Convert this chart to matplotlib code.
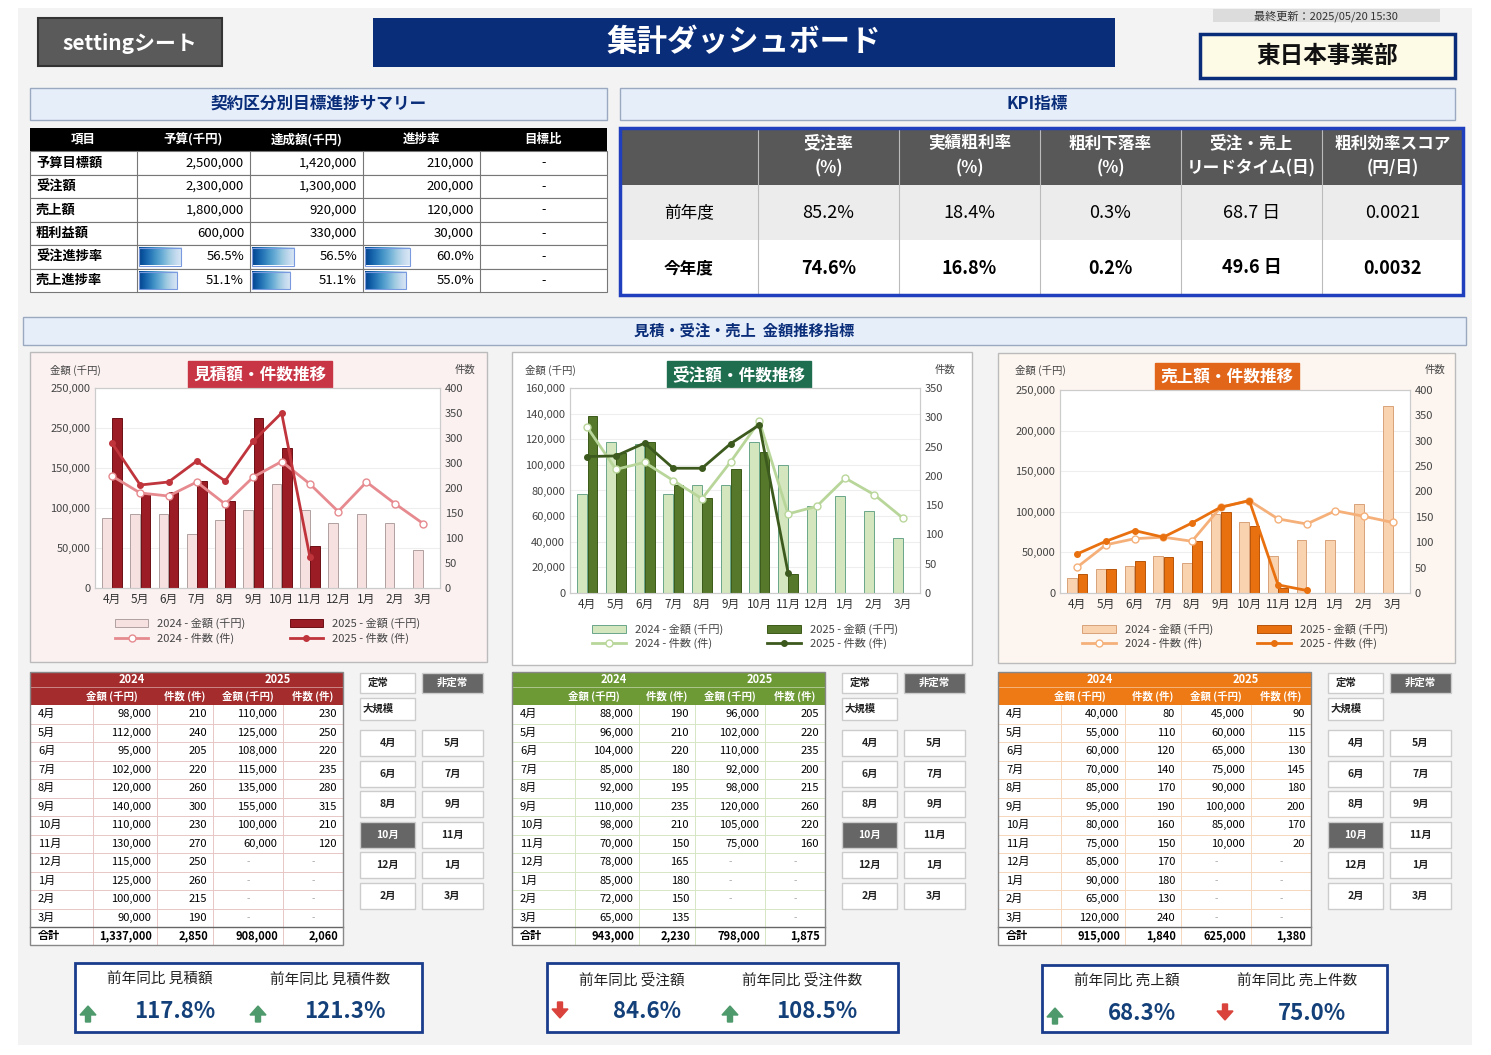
import matplotlib
matplotlib.use('Agg')
import matplotlib.pyplot as plt
import numpy as np
from matplotlib.patches import Rectangle, FancyArrow
from matplotlib.lines import Line2D

plt.rcParams['font.family'] = ['Noto Sans CJK JP', 'DejaVu Sans']

W, H = 1491, 1055
months = ['4月','5月','6月','7月','8月','9月','10月','11月','12月','1月','2月','3月']

# ---- chart data ----
est_amt_2024 = [87500, 93000, 93000, 67000, 85000, 97600, 130000, 97000, 81000, 92500, 81000, 47000]
est_amt_2025 = [212700, 117000, 120000, 134000, 109000, 212700, 174600, 52000]
est_cnt_2024 = [224, 190, 184, 212, 168, 222, 253, 208, 153, 212, 169, 129]
est_cnt_2025 = [290, 206, 212, 254, 214, 294, 350, 62]

ord_amt_2024 = [77500, 118000, 116000, 77000, 84000, 84500, 118000, 100000, 68000, 76000, 64000, 43000]
ord_amt_2025 = [138000, 109000, 118000, 84500, 74000, 97000, 110000, 15000]
ord_cnt_2024 = [283, 211, 223, 192, 161, 224, 293, 135, 148, 196, 168, 128]
ord_cnt_2025 = [233, 234, 256, 213, 213, 255, 287, 35]

sal_amt_2024 = [19000, 29000, 33000, 46000, 37000, 97000, 88000, 46000, 65000, 65500, 110000, 230000]
sal_amt_2025 = [24000, 29500, 40000, 44000, 64000, 100000, 83000, 6000]
sal_cnt_2024 = [51, 95, 107, 110, 102, 169, 182, 146, 136, 162, 151, 139]
sal_cnt_2025 = [77, 102, 123, 110, 138, 169, 182, 16, 5]

# ---- table data ----
est_t_amt24 = ['98,000','112,000','95,000','102,000','120,000','140,000','110,000','130,000','115,000','125,000','100,000','90,000']
est_t_cnt24 = ['210','240','205','220','260','300','230','270','250','260','215','190']
est_t_amt25 = ['110,000','125,000','108,000','115,000','135,000','155,000','100,000','60,000','-','-','-','-']
est_t_cnt25 = ['230','250','220','235','280','315','210','120','-','-','-','-']
est_t_tot = ['1,337,000','2,850','908,000','2,060']

ord_t_amt24 = ['88,000','96,000','104,000','85,000','92,000','110,000','98,000','70,000','78,000','85,000','72,000','65,000']
ord_t_cnt24 = ['190','210','220','180','195','235','210','150','165','180','150','135']
ord_t_amt25 = ['96,000','102,000','110,000','92,000','98,000','120,000','105,000','75,000','-','-','-','']
ord_t_cnt25 = ['205','220','235','200','215','260','220','160','-','-','-','-']
ord_t_tot = ['943,000','2,230','798,000','1,875']

sal_t_amt24 = ['40,000','55,000','60,000','70,000','85,000','95,000','80,000','75,000','85,000','90,000','65,000','120,000']
sal_t_cnt24 = ['80','110','120','140','170','190','160','150','170','180','130','240']
sal_t_amt25 = ['45,000','60,000','65,000','75,000','90,000','100,000','85,000','10,000','-','-','-','-']
sal_t_cnt25 = ['90','115','130','145','180','200','170','20','-','-','-','-']
sal_t_tot = ['915,000','1,840','625,000','1,380']

sum_items = ['予算目標額','受注額','売上額','粗利益額','受注進捗率','売上進捗率']
sum_budget = ['2,500,000','2,300,000','1,800,000','600,000','56.5%','51.1%']
sum_actual = ['1,420,000','1,300,000','920,000','330,000','56.5%','51.1%']
sum_rate = ['210,000','200,000','120,000','30,000','60.0%','55.0%']
sum_bar_pct = [[0.565, 0.565, 0.60], [0.511, 0.511, 0.55]]

kpi_cols = ['受注率\n(%)','実績粗利率\n(%)','粗利下落率\n(%)','受注・売上\nリードタイム(日)','粗利効率スコア\n(円/日)']
kpi_prev = ['85.2%','18.4%','0.3%','68.7 日','0.0021']
kpi_curr = ['74.6%','16.8%','0.2%','49.6 日','0.0032']

yoy_labels = [('前年同比 見積額','前年同比 見積件数'),('前年同比 受注額','前年同比 受注件数'),('前年同比 売上額','前年同比 売上件数')]
yoy_values = [('117.8%','121.3%'),('84.6%','108.5%'),('68.3%','75.0%')]
yoy_up = [(True, True),(False, True),(True, False)]

fig = plt.figure(figsize=(W/100, H/100), dpi=100)
fig.patch.set_facecolor('#ffffff')
bg = fig.add_axes([0,0,1,1])
bg.set_xlim(0,W); bg.set_ylim(H,0); bg.axis('off')

def rect(x0,y0,x1,y1,fc='none',ec='none',lw=1,z=1):
    bg.add_patch(Rectangle((x0,y0),x1-x0,y1-y0,facecolor=fc,edgecolor=ec,linewidth=lw,zorder=z))

def txt(x,y,s,size=9,color='black',ha='center',weight='normal',z=5):
    bg.text(x,y,s,fontsize=size,color=color,ha=ha,va='center',fontweight=weight,zorder=z)

rect(18,8,1472,1045,fc='#f3f3f3',z=0)

# top
rect(38,18,222,66,fc='#5a5a5a',ec='#333333',lw=1.5)
bg.text(130,43,'settingシート',fontsize=15,color='white',ha='center',va='center',fontweight='bold',style='italic',zorder=5)
rect(373,18,1115,67,fc='#0a2d7a')
txt(744,42,'集計ダッシュボード',size=22,color='white',weight='bold')
rect(1213,9,1440,22,fc='#dcdcdc')
txt(1326,16,'最終更新：2025/05/20 15:30',size=8,color='#333')
rect(1200,34,1455,78,fc='#fdfae6',ec='#0a2d7a',lw=2.5)
txt(1327,56,'東日本事業部',size=17,weight='bold',color='#111')

# summary header
def sec_header(x0,y0,x1,y1,s,size=12):
    rect(x0,y0,x1,y1,fc='#e6eefa',ec='#9aa8c0',lw=1)
    txt((x0+x1)/2,(y0+y1)/2,s,size=size,color='#0a2d7a',weight='bold')
sec_header(30,88,607,120,'契約区分別目標進捗サマリー')
sec_header(620,88,1455,120,'KPI指標')
sec_header(23,317,1466,345,'見積・受注・売上  金額推移指標',size=11)

# summary table
cx = [30,137,250,363,480,607]
rect(30,128,607,151,fc='black')
for i,h in enumerate(['項目','予算(千円)','達成額(千円)','進捗率','目標比']):
    txt((cx[i]+cx[i+1])/2,139.5,h,size=9,color='white',weight='bold')
rh = (292-151)/6
grad = np.linspace(0,1,50).reshape(1,-1)
for r in range(6):
    y0 = 151+r*rh; y1 = y0+rh; yc=(y0+y1)/2
    rect(30,y0,607,y1,fc='white',ec='#777',lw=0.8)
    for c in cx[1:-1]:
        bg.plot([c,c],[y0,y1],color='#777',lw=0.8,zorder=2)
    txt(36,yc,sum_items[r],size=9.5,ha='left',weight='bold')
    for j,vals in enumerate([sum_budget,sum_actual,sum_rate]):
        txt(cx[j+2]-6,yc,vals[r],size=9.5,ha='right')
        if r>=4:
            w = sum_bar_pct[r-4][j]*75
            bg.imshow(grad,extent=(cx[j+1]+2,cx[j+1]+2+w,y1-3,y0+3),cmap='Blues_r',aspect='auto',zorder=3,vmin=-0.1,vmax=1.2)
            rect(cx[j+1]+2,y0+3,cx[j+1]+2+w,y1-3,ec='#7a9ae0',lw=0.8,z=4)
    txt((cx[4]+cx[5])/2,yc,'-',size=9)

# KPI table
kx = [620,758] + [758+141*i for i in range(1,6)]
rect(620,128,1463,185,fc='#585858')
rect(620,185,1463,240,fc='#ececec')
rect(620,240,1463,295,fc='white')
for i,h in enumerate(kpi_cols):
    xc=(kx[i+1]+kx[i+2])/2
    bg.text(xc,156,h,fontsize=12,color='white',ha='center',va='center',fontweight='bold',linespacing=1.5,zorder=5)
    txt(xc,213,kpi_prev[i],size=13)
    txt(xc,268,kpi_curr[i],size=13,weight='bold')
    bg.plot([kx[i+1],kx[i+1]],[128,295],color='#bbbbbb',lw=0.8,zorder=2)
txt(689,213,'前年度',size=12)
txt(689,268,'今年度',size=12,weight='bold')
rect(620,128,1463,295,ec='#1f3fbf',lw=2.5,z=6)

def ax_px(x0,y0,x1,y1):
    return fig.add_axes([x0/W,1-y1/H,(x1-x0)/W,(y1-y0)/H])

def chart(panel, plot, title, badge, a24, a25, c24, c25, ymax, ystep, rmax, cols, lticks=None, rticks=None):
    px0,py0,px1,py1 = panel
    rect(px0,py0,px1,py1,fc=cols['panel'],ec='#bbbbbb',lw=1)
    ax = ax_px(*plot)
    x = np.arange(12)
    b24 = ax.bar(x[:len(a24)]-0.18,a24,0.34,color=cols['b24'],edgecolor=cols['e24'],linewidth=0.7,zorder=2)
    b25 = ax.bar(x[:len(a25)]+0.18,a25,0.34,color=cols['b25'],edgecolor=cols['e25'],linewidth=0.7,zorder=3)
    ax.set_ylim(0,ymax); ax.set_xlim(-0.6,11.6)
    yt = np.arange(0,ymax+1,ystep)
    ax.set_yticks(yt)
    ax.set_yticklabels(lticks if lticks else [f'{int(v):,}' for v in yt],fontsize=8,color='#444')
    ax.set_xticks(x); ax.set_xticklabels(months,fontsize=8.5,color='#333')
    ax.tick_params(length=0)
    ax.grid(axis='y',color='#eeeeee',lw=0.8,zorder=0)
    ax.set_facecolor('white')
    for s in ax.spines.values(): s.set_color('#cccccc')
    ax2 = ax.twinx()
    l24, = ax2.plot(x[:len(c24)],c24,color=cols['l24'],lw=2,marker='o',ms=5,mfc='white',mec=cols['l24'],zorder=4)
    l25, = ax2.plot(x[:len(c25)],c25,color=cols['l25'],lw=2,marker='o',ms=4,mfc=cols['l25'],mec=cols['l25'],zorder=5)
    ax2.set_ylim(0,rmax)
    rt = np.arange(0,rmax+1,50)
    ax2.set_yticks(rt)
    ax2.set_yticklabels(rticks if rticks else [str(int(v)) for v in rt],fontsize=8,color='#444')
    ax2.tick_params(length=0)
    for s in ax2.spines.values(): s.set_color('#cccccc')
    ax.legend([b24,l24,b25,l25],['2024 - 金額 (千円)','2024 - 件数 (件)','2025 - 金額 (千円)','2025 - 件数 (件)'],
              loc='upper center',bbox_to_anchor=(0.5,-0.1),ncol=2,frameon=False,fontsize=8,
              handlelength=3,columnspacing=4,labelspacing=0.3,labelcolor='#444')
    txt(plot[0]-20,370,'金額 (千円)',size=7.5,color='#444')
    txt(plot[2]+25,370,'件数',size=7.5,color='#444')
    bg.text(badge[0],badge[1],title,fontsize=12,color='white',fontweight='bold',ha='center',va='center',zorder=6,
            bbox=dict(boxstyle='square,pad=0.3',fc=cols['badge'],ec=cols['badge']))

red = dict(panel='#fbf1f1',b24='#f7e0e0',e24='#b0a0a0',b25='#9b1c24',e25='#6e1016',l24='#e68a8f',l25='#c0343c',badge='#c83545',hdr='#a52c2c',grid='#e8c6c6')
grn = dict(panel='#ffffff',b24='#d3e6bd',e24='#6aa58a',b25='#55782a',e25='#3b5a1a',l24='#b9d69a',l25='#3d5a1e',badge='#1f6e50',hdr='#6e9a35',grid='#d6e6c4')
org = dict(panel='#fdf6f0',b24='#f9d2b0',e24='#d8a27a',b25='#e8700f',e25='#b8540a',l24='#f5b07a',l25='#e8700f',badge='#e2661a',hdr='#ee7a15',grid='#f6d7bd')

chart((30,352,487,662),(95,388,440,588),'見積額・件数推移',(260,375),est_amt_2024,est_amt_2025,est_cnt_2024,est_cnt_2025,
      250000,50000,400,red,lticks=['0','50,000','100,000','150,000','250,000','250,000'],
      rticks=['0','50','100','150','200','300','300','350','400'])
chart((512,352,972,665),(570,388,920,593),'受注額・件数推移',(739,375),ord_amt_2024,ord_amt_2025,ord_cnt_2024,ord_cnt_2025,
      160000,20000,350,grn)
chart((998,353,1455,663),(1060,390,1410,593),'売上額・件数推移',(1227,377),sal_amt_2024,sal_amt_2025,sal_cnt_2024,sal_cnt_2025,
      250000,50000,400,org)

def month_table(x0, cols, a24, c24, a25, c25, tot):
    xs = [x0, x0+63, x0+127, x0+183, x0+253, x0+313]
    rect(xs[0],672,xs[5],705,fc=cols['hdr'])
    bg.plot([xs[0],xs[5]],[687,687],color='white',lw=0.6,alpha=0.5,zorder=2)
    txt((xs[0]+xs[3])/2+10,679.5,'2024',size=8,color='white',weight='bold')
    txt((xs[3]+xs[5])/2,679.5,'2025',size=8,color='white',weight='bold')
    for i,h in enumerate(['金額 (千円)','件数 (件)','金額 (千円)','件数 (件)']):
        txt((xs[i+1]+xs[i+2])/2 if i else (xs[0]+xs[2])/2+18,696,h,size=7.5,color='white',weight='bold')
    rh=(927-705)/12
    rect(xs[0],705,xs[5],945,fc='white')
    for r in range(12):
        yc = 705+rh*r+rh/2
        bg.plot([xs[0],xs[5]],[705+rh*(r+1)]*2,color=cols['grid'],lw=0.7,zorder=2)
        txt(xs[0]+8,yc,months[r],size=8,ha='left')
        for j,v in enumerate([a24,c24,a25,c25]):
            if v[r] == '-':
                txt((xs[j+1]+xs[j+2])/2,yc,'-',size=7,color='#aaa')
            else:
                txt(xs[j+2]-6,yc,v[r],size=8,ha='right')
    for c in xs[1:-1]:
        bg.plot([c,c],[705,945],color=cols['grid'],lw=0.7,zorder=2)
    bg.plot([xs[0],xs[5]],[927,927],color='#666',lw=1,zorder=3)
    txt(xs[0]+8,936,'合計',size=8,ha='left',weight='bold')
    for j,v in enumerate(tot):
        txt(xs[j+2]-5,936,v,size=8,ha='right',weight='bold')
    rect(xs[0],672,xs[5],945,ec='#888',lw=1,z=4)
    # buttons
    bx = [(x0+330,x0+385),(x0+392,x0+453)]
    def btn(c,y0,y1,s,dark=False):
        rect(bx[c][0],y0,bx[c][1],y1,fc='#666666' if dark else 'white',ec='#cccccc',lw=1)
        txt((bx[c][0]+bx[c][1])/2 if c or s.endswith('月') else bx[c][0]+18,(y0+y1)/2,s,size=7.5,
            color='white' if dark else '#222',weight='bold',ha='center')
    btn(0,673,693,'定常'); btn(1,673,693,'非定常',True); btn(0,698,720,'大規模')
    grid_m = ['4月','5月','6月','7月','8月','9月','10月','11月','12月','1月','2月','3月']
    for k,m in enumerate(grid_m):
        r=k//2; c=k%2
        y0 = 730+r*30.5
        btn(c,y0,y0+26,m,dark=(m=='10月'))

month_table(30,red,est_t_amt24,est_t_cnt24,est_t_amt25,est_t_cnt25,est_t_tot)
month_table(512,grn,ord_t_amt24,ord_t_cnt24,ord_t_amt25,ord_t_cnt25,ord_t_tot)
month_table(998,org,sal_t_amt24,sal_t_cnt24,sal_t_amt25,sal_t_cnt25,sal_t_tot)

def arrow(x,yc,up):
    col = '#4f9a6c' if up else '#d9433b'
    if up:
        bg.add_patch(FancyArrow(x,yc+10,0,-16,width=5,head_width=16,head_length=9,color=col,zorder=5,length_includes_head=True))
    else:
        bg.add_patch(FancyArrow(x,yc-10,0,16,width=5,head_width=16,head_length=9,color=col,zorder=5,length_includes_head=True))

boxes = [(75,963,422,1032),(547,963,898,1032),(1042,965,1387,1032)]
for b,(x0,y0,x1,y1) in enumerate(boxes):
    rect(x0,y0,x1,y1,fc='white',ec='#1a3c8c',lw=2)
    for k in range(2):
        xl = x0+85+k*170
        txt(xl,980+(y0-963),yoy_labels[b][k],size=10.5,color='#222')
        arrow(xl-72,1012+(y0-963),yoy_up[b][k])
        txt(xl+15,1011+(y0-963),yoy_values[b][k],size=16,color='#14407a',weight='bold')

bg.set_xlim(0,W); bg.set_ylim(H,0)
fig.savefig('out.png',dpi=100)
